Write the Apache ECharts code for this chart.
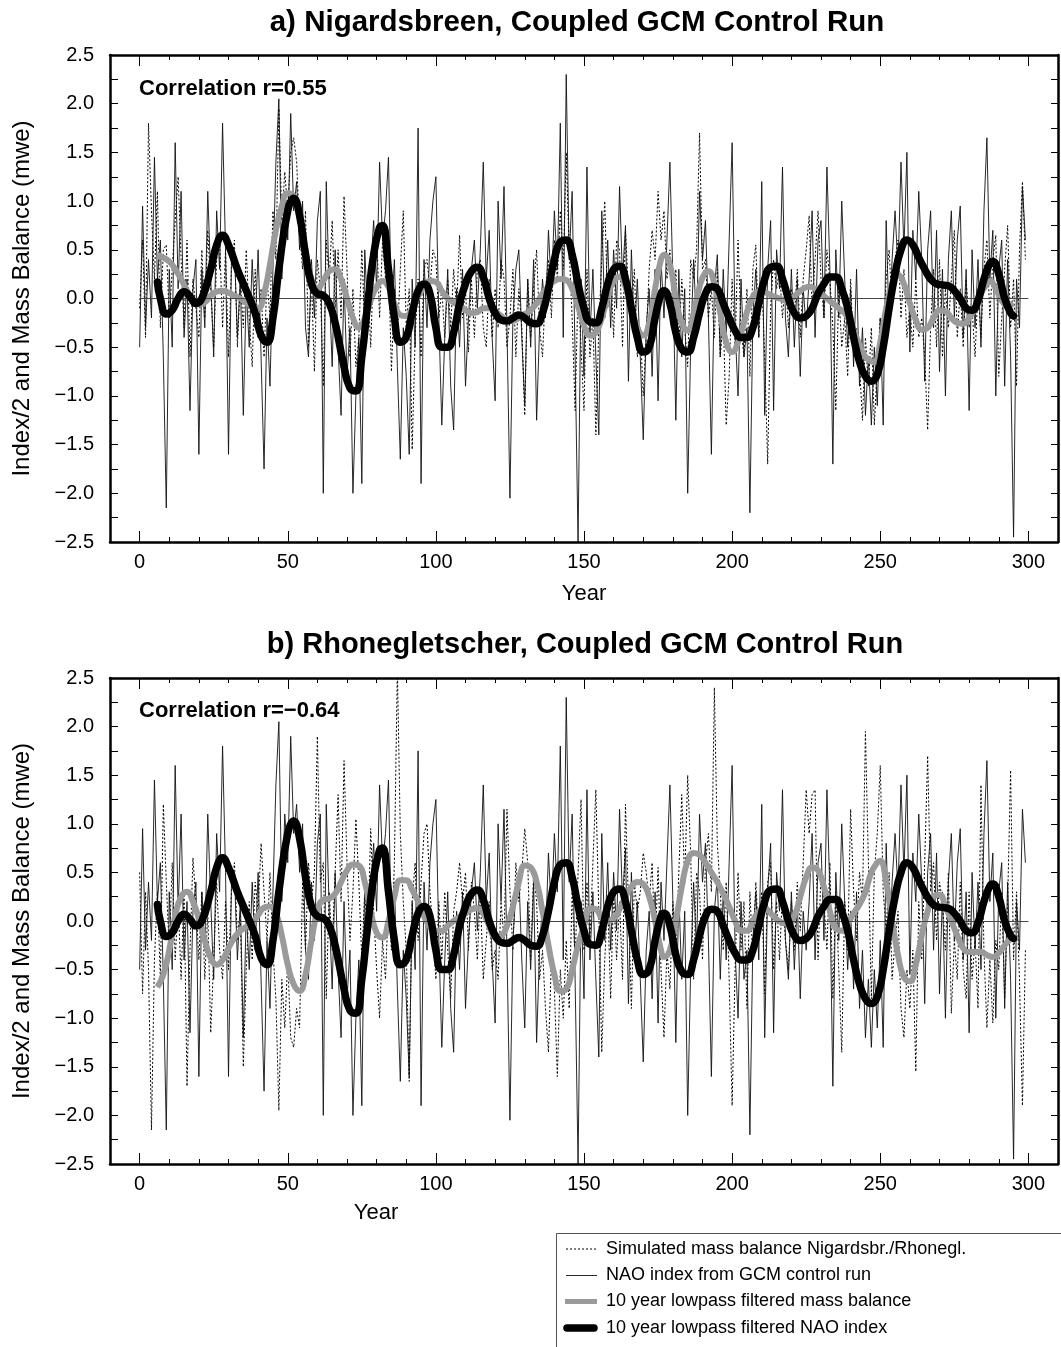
<!DOCTYPE html>
<html>
<head>
<meta charset="utf-8">
<title>NAO index and glacier mass balance</title>
<script src="https://cdn.jsdelivr.net/npm/echarts@6/dist/echarts.min.js"></script>
<style>
html, body { margin: 0; padding: 0; background: #fff; }
#chart { width: 1061px; height: 1347px; }
</style>
</head>
<body>
<div id="chart"></div>
<script>
var FONT = '"Liberation Sans", Arial, Helvetica, sans-serif';

// yearly values start at year 0
var firstYear = 0;

// NAO index / 2 from GCM control run (same in both panels)
var naoIndex = [
  -0.5, 0.95, -0.3, 0.4, -0.2, 1.45, 0.2, 0.6, -0.6, -2.15,
  0.3, -0.5, 1.6, 0.1, 1.1, -0.4, 0.2, -1.15, 0.1, 0.4,
  -1.6, 0.3, -0.3, 1.1, 0.2, -0.6, 0.9, 0.3, 1.8, 0.5,
  -1.6, 0.4, 0.5, -0.4, 0.2, -1.2, 0.1, -0.5, 0.4, -0.3,
  0.5, -0.6, -1.75, -0.2, -0.9, 0.3, 1.4, 2.05, 0.2, 1.1,
  0.6, 1.9, 0.9, 1.2, 0.5, 1.0, -0.3, -0.6, 0.4, -0.2,
  0.8, 1.1, -2.0, 1.2, 0.1, -0.7, 0.5, -0.5, -1.2, 0.2,
  -0.8, -0.3, -2.0, -1.0, -0.4, -1.9, 0.5, -0.2, 0.3, 0.8,
  0.1, 1.4, 0.6, 0.9, 1.45, -0.2, 0.4, -0.7, -1.65, -0.3,
  -0.8, -1.6, 0.2, -0.5, 1.75, -1.9, 0.4, -0.3, 0.6, 1.0,
  1.25, -0.2, -1.3, -0.4, 0.3, -0.9, -1.35, 0.1, -0.5, 0.3,
  -0.9, -0.2, 0.3, 0.6, -0.1, 0.5, 1.4, 0.2, 0.7, -0.4,
  -1.05, 1.0, 0.2, 1.15, -0.3, -2.05, -0.2, 0.3, 0.5, -0.4,
  -1.1, 0.2, -0.5, 0.4, -1.25, -0.3, 0.2, -0.2, 0.7, 0.1,
  0.9, 0.3, 1.8, -0.4, 2.3, 0.4, 1.1, -0.6, -2.5, 0.2,
  -0.8, 1.35, -0.4, 0.3, -0.6, -1.4, 0.9, -0.2, 0.6, -0.3,
  0.5, -0.1, 1.15, 0.2, 0.75, -0.85, 0.5, -0.4, 0.2, -0.6,
  -1.45, -0.3, 0.1, -0.8, 0.3, -1.05, 0.4, -0.2, 0.6, 1.4,
  0.2, -1.25, 0.3, -0.6, 0.1, -2.0, -0.5, 0.4, -0.3, 1.1,
  0.4, 0.8, -0.2, -1.6, 0.1, 0.45, -0.6, 0.3, -0.4, 0.6,
  1.6, -0.3, -1.0, 0.2, -0.6, -0.3, -2.2, -0.2, 0.3, -0.4,
  1.2, -1.2, 0.3, 0.8, -1.15, 0.5, 0.1, 1.35, -0.2, -0.6,
  0.3, -0.5, 0.2, -0.8, 0.1, -0.3, 0.2, 0.9, -0.4, 0.6,
  0.8, -0.2, 1.35, 0.3, -1.7, 0.5, -0.2, 1.0, 0.2, -0.5,
  0.1, -0.7, 0.3, -0.9, -0.3, -1.2, -0.6, -1.3, -0.5, -1.1,
  -0.2, -1.3, 0.8, -0.3, 0.4, 0.9, 0.3, 1.4, 0.5, 1.5,
  -0.55, 0.7, 0.2, 1.1, 0.4, -0.85, 0.5, 0.9, -0.3, 0.7,
  -0.75, 0.3, -1.0, 0.4, 0.9, -0.2, 0.6, 0.95, -0.4, 0.3,
  -1.15, 0.5, -0.3, 0.4, -0.5, 0.9, 1.65, 0.2, 0.7, -1.0,
  0.3, 0.6, -0.9, 0.4, -0.6, -2.45, 0.2, -0.3, 1.15, 0.6
];

// simulated mass balance, Nigardsbreen (panel a)
var massNigardsbreen = [
  -0.1, 0.6, -0.4, 1.8, 0.9, 0.2, 1.1, -0.3, 0.5, 0.55,
  -0.2, 0.3, 0.8, 1.25, 0.4, -0.3, 0.6, -0.6, 0.2, -0.1,
  -0.4, 0.5, -0.2, 0.7, 0.1, -0.5, 0.4, 0.6, -0.3, 0.5,
  -0.6, 0.3, 0.6, -0.5, 0.2, -0.3, 0.5, -0.2, -0.7, 0.3,
  -0.4, 0.1, -0.6, 0.2, -0.2, 0.9, 0.4, 1.95, 0.8, 1.3,
  0.9, 1.5, 1.65, 1.4, 0.7, 0.3, 0.9, -0.5, 0.2, -0.75,
  0.4, 0.1, -0.9, 0.6, 0.2, 0.8, -0.1, 0.5, -0.2, 1.05,
  0.3, -0.6, 0.1, -0.7, -0.4, 0.5, -0.3, 0.2, -0.5, 0.4,
  0.7, -0.2, 0.6, 0.2, 0.4, -0.75, 0.1, -0.4, 0.3, 0.9,
  -0.3, 0.1, -1.55, -0.4, 0.2, -0.6, 0.3, 0.4, 0.1, 0.5,
  0.4, -0.2, 0.1, -0.4, 0.2, -0.3, 0.3, -0.1, 0.65, -0.2,
  0.1, -0.55, 0.2, -0.4, 0.3, 0.4, -0.3, -0.5, 0.2, -0.4,
  0.1, -0.3, 0.4, 0.2, -0.5, -0.2, 0.3, -0.6, 0.1, -0.3,
  -1.2, 0.2, -0.4, 0.1, 0.5, -0.3, -0.6, 0.1, 0.4, -0.2,
  0.6, 0.2, 0.9, 0.3, 1.5, 0.5, -0.2, -1.15, 0.1, -0.5,
  -1.15, 0.3, -0.6, -0.2, -1.4, -0.3, 0.4, 1.0, -0.1, 0.3,
  -0.4, 0.6, 0.5, -0.5, 0.7, 0.1, -0.2, 0.3, -0.6, -0.3,
  -1.0, -0.4, 0.3, 0.7, 0.4, 1.1, 0.6, 0.9, 0.2, 0.5,
  -0.1, 0.3, -0.5, 0.2, -0.3, -0.7, 0.4, 0.2, 0.5, 1.7,
  0.3, 0.4, -0.2, 0.1, -0.4, 0.3, -0.6, -0.2, -1.3, -0.8,
  0.2, -0.5, 0.6, -0.3, -0.6, 0.1, -0.8, 0.3, 0.55, -0.4,
  0.2, -0.6, -1.7, -0.1, 0.4, 0.1, 0.3, -0.2, 0.2, -0.3,
  0.1, -0.2, 0.3, -0.4, 0.2, 0.5, 0.85, -0.1, 0.4, 0.9,
  0.2, -0.2, 0.5, 0.2, -0.3, -1.15, 0.1, -0.5, -0.2, -0.8,
  0.2, -0.6, -0.3, -0.7, -1.25, -0.4, -0.9, -0.3, -1.3, -0.7,
  -0.2, -0.5, 0.2, 0.5, -0.1, 0.4, 0.6, -0.2, 0.3, -0.4,
  -0.1, -0.5, 0.2, -0.4, -0.2, -0.6, -1.35, -0.3, 0.3, -0.5,
  0.4, -0.6, 0.1, -0.3, 0.2, 0.7, -0.4, 0.1, -0.5, 0.2,
  -0.3, -0.1, -0.6, 0.1, -0.4, 0.3, 0.6, -0.2, 0.4, 0.65,
  -0.8, -0.2, 0.3, 0.75, -0.3, 0.2, -0.9, 0.5, 1.2, 0.4
];

// simulated mass balance, Rhonegletscher (panel b)
var massRhonegletscher = [
  0.5, -0.75, 0.3, -0.5, -2.15, -0.4, 0.3, -0.6, 1.2, 0.4,
  -0.3, 0.6, -0.4, 0.2, -0.6, 0.3, -1.7, -0.3, 0.65, 0.2,
  -0.4, 0.3, -0.6, 0.1, -1.15, -0.4, 0.4, -0.3, -0.6, 0.2,
  -0.5, 0.3, 0.6, -0.2, 0.1, -1.5, -0.5, 0.2, -0.4, 0.4,
  0.1, 0.8, 0.3, -0.2, 0.5, -0.3, -0.8, -1.95, -0.6, -1.1,
  -0.4, -1.2, -1.3, -0.9, -1.1, 0.4, -0.3, 0.6, 0.2, 0.5,
  1.9, 0.4, 0.6, -0.8, 0.3, -0.3, 0.5, 1.3, 0.2, 1.65,
  0.6, -0.2, 0.3, 1.05, 0.4, -0.4, 0.3, -0.2, 0.95, 0.1,
  -0.5, -1.0, -0.2, -0.6, 0.2, -0.3, 0.6, 2.6, 0.9, 0.2,
  -0.3, -1.65, 0.2, 0.6, -0.2, 0.4, 0.9, 1.0, 0.3, -0.1,
  -0.6, 0.2, -0.4, 0.3, -0.3, -0.8, 0.1, 0.3, 0.6, 0.2,
  0.5, -0.3, 0.4, 0.1, -0.4, 0.3, -0.6, -0.2, 0.2, -0.5,
  -0.3, -0.6, 0.2, -0.2, 1.15, 0.3, -0.3, 0.6, 0.2, 0.5,
  0.95, 0.6, -0.4, 0.5, 0.2, -0.6, -0.3, -0.9, -1.35, -0.4,
  -0.7, -1.6, -0.5, -1.0, -0.2, -0.9, 0.3, -0.4, 0.5, 1.25,
  -0.3, 0.4, -0.2, 0.6, 1.35, 0.1, -1.35, -0.4, 0.2, -0.8,
  0.3, -0.4, 0.2, -0.6, 1.2, 0.2, -0.9, 0.4, 0.1, 0.3,
  0.7, 0.5, 0.2, 0.6, -0.3, 0.55, -0.5, -1.2, -0.3, -0.7,
  0.2, -0.4, 0.5, 1.3, 0.4, 1.5, 0.7, -0.6, 0.5, 0.3,
  -0.4, 0.6, 0.9, 0.3, 2.4, 0.8, 0.3, -0.3, 0.4, -0.6,
  -1.9, -0.5, 0.5, -0.3, 0.2, -0.9, 0.3, -0.4, 0.4, -0.2,
  0.3, -0.75, 0.4, 0.6, -0.5, 0.2, -0.4, 0.3, -0.2, -0.5,
  0.2, -0.3, 0.4, -0.1, 0.6, 1.35, 0.9, 1.3, 1.35, -0.4,
  0.5, 0.2, -0.3, 0.6, -0.8, 0.3, -0.5, -1.35, 0.2, -0.3,
  1.15, 0.3, -0.2, 0.5, 0.2, 1.95, 0.6, -0.8, 0.5, 0.9,
  1.6, 0.3, -0.1, 0.5, -0.6, -0.2, 0.1, -0.9, -1.2, -0.5,
  -0.9, -0.3, -1.55, 0.2, -0.4, 0.6, 1.7, 0.3, 0.6, -0.2,
  0.4, 0.2, -0.3, 0.5, -0.95, -0.2, -0.6, 0.4, -0.5, -0.8,
  0.3, -0.6, -0.2, -0.9, 1.4, -0.3, -1.1, -0.4, -1.05, -0.2,
  -0.5, 0.3, -0.8, 0.2, 1.55, -0.4, 0.3, -0.6, -1.9, -0.3
];

// 10 year lowpass filtered NAO index [year, value]
var naoLowpass = [
  [6,0.17],[7,0.0],[9,-0.16],[11,-0.12],[13,0.0],[15,0.07],[17,0.02],[19,-0.05],[21,0.0],
  [24,0.3],[26,0.55],[28,0.65],[30,0.55],[33,0.3],[36,0.08],[39,-0.15],[41,-0.38],[43,-0.45],
  [45,-0.2],[47,0.3],[50,0.9],[52,1.03],[54,0.85],[56,0.45],[58,0.15],[60,0.05],[62,0.03],
  [64,-0.05],[66,-0.25],[69,-0.7],[71,-0.92],[73,-0.95],[75,-0.6],[77,-0.05],[79,0.45],
  [81,0.73],[82,0.75],[84,0.3],[86,-0.2],[88,-0.45],[90,-0.4],[92,-0.15],[94,0.08],[96,0.15],
  [98,0.05],[100,-0.3],[102,-0.5],[104,-0.5],[106,-0.35],[108,-0.05],[110,0.15],[112,0.28],
  [114,0.32],[116,0.22],[118,0.0],[120,-0.15],[122,-0.22],[124,-0.23],[126,-0.2],[128,-0.17],
  [130,-0.2],[132,-0.25],[134,-0.26],[136,-0.15],[138,0.1],[140,0.4],[142,0.58],[144,0.6],
  [146,0.45],[148,0.15],[150,-0.1],[152,-0.24],[154,-0.25],[156,-0.1],[158,0.15],[160,0.3],
  [162,0.33],[164,0.2],[166,-0.1],[168,-0.4],[170,-0.55],[172,-0.5],[174,-0.2],[176,0.05],
  [177,0.08],[179,-0.05],[181,-0.35],[183,-0.52],[185,-0.55],[187,-0.4],[189,-0.15],[191,0.05],
  [193,0.12],[195,0.1],[197,-0.05],[199,-0.2],[201,-0.33],[203,-0.4],[205,-0.4],[207,-0.3],
  [209,-0.05],[211,0.2],[213,0.32],[215,0.33],[217,0.2],[219,0.0],[221,-0.15],[223,-0.2],
  [225,-0.18],[227,-0.1],[229,0.05],[231,0.15],[233,0.22],[235,0.22],[237,0.1],[239,-0.1],
  [241,-0.4],[243,-0.65],[245,-0.8],[247,-0.85],[249,-0.78],[251,-0.5],[253,-0.1],[255,0.25],
  [257,0.5],[259,0.6],[261,0.55],[263,0.42],[265,0.3],[267,0.2],[269,0.15],[271,0.14],
  [273,0.13],[275,0.08],[277,0.0],[279,-0.1],[281,-0.12],[283,-0.02],[285,0.2],[287,0.36],
  [288,0.38],[290,0.25],[292,0.0],[294,-0.15],[295,-0.18]
];

// 10 year lowpass filtered mass balance, Nigardsbreen
var massLowpassNigardsbreen = [
  [6,0.45],[8,0.42],[10,0.38],[12,0.3],[14,0.2],[16,0.08],[18,-0.02],[20,-0.06],[22,-0.04],
  [24,0.03],[26,0.07],[28,0.08],[30,0.06],[32,0.03],[34,0.0],[36,-0.04],[38,-0.08],[40,-0.1],
  [42,0.05],[44,0.35],[46,0.7],[48,0.95],[50,1.08],[52,1.05],[54,0.85],[56,0.5],[58,0.2],
  [60,0.1],[62,0.18],[64,0.28],[66,0.3],[68,0.2],[70,0.0],[72,-0.2],[74,-0.3],[76,-0.2],
  [78,-0.02],[80,0.12],[82,0.18],[84,0.12],[86,-0.05],[88,-0.17],[90,-0.18],[92,-0.1],
  [94,0.02],[96,0.12],[98,0.18],[100,0.17],[102,0.08],[104,0.0],[106,-0.04],[108,-0.08],
  [110,-0.12],[112,-0.15],[114,-0.14],[116,-0.1],[118,-0.1],[120,-0.13],[122,-0.18],
  [124,-0.22],[126,-0.23],[128,-0.2],[130,-0.16],[132,-0.12],[134,-0.05],[136,0.05],
  [138,0.12],[140,0.18],[142,0.2],[144,0.19],[146,0.1],[148,-0.08],[150,-0.28],[152,-0.38],
  [154,-0.35],[156,-0.2],[158,0.02],[160,0.18],[162,0.22],[164,0.12],[166,-0.1],[168,-0.3],
  [170,-0.38],[172,-0.25],[174,0.1],[176,0.4],[177,0.45],[179,0.35],[181,0.0],[183,-0.25],
  [185,-0.33],[187,-0.15],[189,0.12],[191,0.27],[192,0.28],[194,0.15],[196,-0.15],[198,-0.45],
  [200,-0.55],[202,-0.45],[204,-0.25],[206,-0.05],[208,0.06],[210,0.08],[212,0.05],[214,0.02],
  [216,0.0],[218,-0.02],[220,0.0],[222,0.05],[224,0.1],[226,0.12],[228,0.1],[230,0.05],
  [232,0.0],[234,-0.05],[236,-0.1],[238,-0.15],[240,-0.25],[242,-0.4],[244,-0.55],[246,-0.63],
  [248,-0.65],[250,-0.45],[252,-0.1],[254,0.15],[256,0.24],[258,0.15],[260,-0.05],[262,-0.22],
  [264,-0.32],[266,-0.3],[268,-0.2],[270,-0.12],[272,-0.13],[274,-0.2],[276,-0.25],[278,-0.26],
  [280,-0.2],[282,-0.1],[284,0.05],[286,0.15],[287,0.18],[289,0.1],[291,-0.02],[293,-0.07],
  [295,-0.05]
];

// 10 year lowpass filtered mass balance, Rhonegletscher
var massLowpassRhonegletscher = [
  [6,-0.68],[8,-0.55],[10,-0.3],[12,0.05],[14,0.25],[16,0.3],[18,0.2],[20,0.02],[22,-0.2],
  [24,-0.38],[26,-0.45],[28,-0.4],[30,-0.28],[32,-0.17],[34,-0.1],[36,-0.06],[38,-0.02],
  [40,0.06],[42,0.14],[44,0.15],[46,0.08],[48,-0.15],[50,-0.45],[52,-0.65],[54,-0.72],
  [56,-0.55],[58,-0.2],[60,0.1],[62,0.22],[64,0.23],[66,0.28],[68,0.4],[70,0.52],[72,0.58],
  [74,0.57],[76,0.4],[78,0.1],[80,-0.12],[82,-0.17],[84,0.0],[86,0.25],[88,0.42],[90,0.42],
  [92,0.32],[94,0.2],[96,0.05],[98,-0.06],[100,-0.1],[102,-0.1],[104,-0.05],[106,0.0],
  [108,0.04],[110,0.08],[112,0.12],[114,0.13],[116,0.08],[118,-0.05],[120,-0.16],[122,-0.15],
  [124,-0.05],[126,0.15],[128,0.4],[130,0.57],[132,0.55],[134,0.4],[136,0.1],[138,-0.25],
  [140,-0.55],[142,-0.72],[144,-0.7],[146,-0.5],[148,-0.25],[150,-0.05],[152,0.13],[154,0.12],
  [156,0.03],[158,0.0],[160,0.03],[162,0.12],[164,0.25],[166,0.35],[168,0.4],[170,0.38],
  [172,0.25],[174,0.0],[176,-0.3],[177,-0.37],[179,-0.3],[181,0.0],[183,0.35],[185,0.62],
  [187,0.7],[189,0.68],[191,0.6],[193,0.5],[195,0.4],[197,0.28],[199,0.15],[201,0.0],
  [203,-0.1],[205,-0.1],[207,0.0],[209,0.1],[211,0.13],[213,0.08],[215,0.02],[217,-0.02],
  [219,-0.03],[221,0.05],[223,0.25],[225,0.45],[227,0.55],[229,0.52],[231,0.35],[233,0.1],
  [235,-0.08],[237,-0.1],[239,-0.03],[241,0.08],[243,0.17],[245,0.3],[247,0.5],[249,0.6],
  [250,0.62],[252,0.4],[254,0.0],[256,-0.35],[258,-0.58],[260,-0.62],[262,-0.45],[264,-0.15],
  [266,0.1],[268,0.25],[270,0.27],[272,0.15],[274,0.0],[276,-0.15],[278,-0.28],[280,-0.32],
  [282,-0.32],[284,-0.32],[286,-0.35],[288,-0.37],[290,-0.33],[292,-0.25],[294,-0.18]
];

var yearTicks = [0, 50, 100, 150, 200, 250, 300];
var panelTitles = ['a) Nigardsbreen, Coupled GCM Control Run', 'b) Rhonegletscher, Coupled GCM Control Run'];
var correlations = ['Correlation r=0.55', 'Correlation r=\u22120.64'];
var seriesNames = [
  'Simulated mass balance Nigardsbr./Rhonegl.',
  'NAO index from GCM control run',
  '10 year lowpass filtered mass balance',
  '10 year lowpass filtered NAO index'
];

// line looks shared by the series and the hand-drawn key
var looks = [
  { color: '#000', width: 1, type: [2, 2] },
  { color: '#111', width: 0.9, type: 'solid' },
  { color: '#9a9a9a', width: 6, type: 'solid' },
  { color: '#000', width: 7.5, type: 'solid', cap: 'round' }
];

function yearly(values) {
  return values.map(function (v, i) { return [firstYear + i, v]; });
}

function fmtYear(v) {
  return (v % 50 === 0 && v >= 0 && v <= 300) ? String(v) : '';
}

function fmtValue(v) {
  if (Math.abs(v * 2 - Math.round(v * 2)) > 1e-6) return '';
  return v.toFixed(1).replace('-', '\u2212');
}

var axisLine = { show: true, onZero: false, lineStyle: { color: '#000', width: 2.5 } };
var tickLine = { color: '#000', width: 1 };

function xAxesFor(g, withName) {
  var base = { type: 'value', gridIndex: g, min: -10, max: 310, interval: 10, splitLine: { show: false } };
  return [
    Object.assign({}, base, {
      position: 'bottom',
      axisLine: axisLine,
      axisTick: { inside: true, length: 5, lineStyle: tickLine },
      axisLabel: { formatter: fmtYear, fontSize: 20, fontFamily: FONT, color: '#000', margin: 10 },
      name: withName ? 'Year' : '',
      nameLocation: 'middle',
      nameGap: 41,
      nameTextStyle: { fontSize: 22, fontFamily: FONT, color: '#000' }
    }),
    Object.assign({}, base, {
      position: 'bottom',
      axisLine: { show: false, onZero: false },
      axisTick: { inside: true, length: 11, customValues: yearTicks, lineStyle: tickLine },
      axisLabel: { show: false }
    }),
    Object.assign({}, base, {
      position: 'top',
      axisLine: axisLine,
      axisTick: { inside: true, length: 5, lineStyle: tickLine },
      axisLabel: { show: false }
    }),
    Object.assign({}, base, {
      position: 'top',
      axisLine: { show: false, onZero: false },
      axisTick: { inside: true, length: 11, customValues: yearTicks, lineStyle: tickLine },
      axisLabel: { show: false }
    })
  ];
}

function yAxesFor(g) {
  var base = { type: 'value', gridIndex: g, min: -2.5, max: 2.5, interval: 0.25, splitLine: { show: false } };
  return [
    Object.assign({}, base, {
      position: 'left',
      axisLine: axisLine,
      axisTick: { inside: true, length: 8, lineStyle: tickLine },
      axisLabel: { formatter: fmtValue, fontSize: 20, fontFamily: FONT, color: '#000', margin: 16 },
      name: 'Index/2 and Mass Balance (mwe)',
      nameLocation: 'middle',
      nameGap: 76,
      nameTextStyle: { fontSize: 24, fontFamily: FONT, color: '#000' }
    }),
    Object.assign({}, base, {
      position: 'right',
      axisLine: axisLine,
      axisTick: { inside: true, length: 7, lineStyle: tickLine },
      axisLabel: { show: false }
    })
  ];
}

function seriesFor(g, mass, massLow) {
  var xi = g * 4, yi = g * 2;
  return [
    {
      name: seriesNames[0], type: 'line', xAxisIndex: xi, yAxisIndex: yi,
      data: yearly(mass), symbol: 'none', z: 2, lineStyle: looks[0]
    },
    {
      name: seriesNames[1], type: 'line', xAxisIndex: xi, yAxisIndex: yi,
      data: yearly(naoIndex), symbol: 'none', z: 3, lineStyle: looks[1],
      markLine: {
        silent: true, symbol: ['none', 'none'], label: { show: false },
        lineStyle: { color: '#444', width: 1, type: 'solid' },
        data: [[{ coord: [0, 0] }, { coord: [300, 0] }]]
      }
    },
    {
      name: seriesNames[2], type: 'line', xAxisIndex: xi, yAxisIndex: yi,
      data: massLow, symbol: 'none', smooth: 0.5, z: 4, lineStyle: looks[2]
    },
    {
      name: seriesNames[3], type: 'line', xAxisIndex: xi, yAxisIndex: yi,
      data: naoLowpass, symbol: 'none', smooth: 0.5, z: 5, lineStyle: looks[3]
    }
  ];
}

// key in the lower right corner, box runs off the page like the original
var keyRows = [1249, 1275.5, 1301.5, 1328];
var keyStart = [566, 566, 565, 567];
var keyEnd = [597, 597, 597, 594];
var keyItems = [
  { type: 'rect', shape: { x: 556.5, y: 1233.5, width: 530, height: 130 }, style: { fill: '#fff', stroke: '#555', lineWidth: 1 } }
];
seriesNames.forEach(function (name, i) {
  var lk = looks[i];
  keyItems.push({
    type: 'line', z: 5,
    shape: { x1: keyStart[i], y1: keyRows[i], x2: keyEnd[i], y2: keyRows[i] },
    style: { stroke: lk.color, lineWidth: i === 2 ? 5 : lk.width, lineDash: Array.isArray(lk.type) ? lk.type : null, lineCap: lk.cap || 'butt' }
  });
  keyItems.push({
    type: 'text', z: 5, x: 606, y: keyRows[i],
    style: { text: name, font: '18px ' + FONT, fill: '#000', textAlign: 'left', textVerticalAlign: 'middle' }
  });
});

var chart = echarts.init(document.getElementById('chart'), null, { renderer: 'canvas' });

var option = {
  animation: false,
  backgroundColor: '#fff',
  grid: [
    { left: 110, right: -2, top: 55, height: 487 },
    { left: 110, right: -2, top: 678, height: 486 }
  ],
  xAxis: xAxesFor(0, true).concat(xAxesFor(1, false)),
  yAxis: yAxesFor(0).concat(yAxesFor(1)),
  graphic: [
    { type: 'text', x: 577, y: 23, style: { text: panelTitles[0], font: 'bold 29.5px ' + FONT, fill: '#000', textAlign: 'center', textVerticalAlign: 'middle' } },
    { type: 'text', x: 585, y: 645, style: { text: panelTitles[1], font: 'bold 29px ' + FONT, fill: '#000', textAlign: 'center', textVerticalAlign: 'middle' } },
    { type: 'text', x: 139, y: 89, z: 10, style: { text: correlations[0], font: 'bold 22px ' + FONT, fill: '#000', textAlign: 'left', textVerticalAlign: 'middle' } },
    { type: 'text', x: 139, y: 711, z: 10, style: { text: correlations[1], font: 'bold 22px ' + FONT, fill: '#000', textAlign: 'left', textVerticalAlign: 'middle' } },
    { type: 'text', x: 376, y: 1213, style: { text: 'Year', font: '22px ' + FONT, fill: '#000', textAlign: 'center', textVerticalAlign: 'middle' } }
  ].concat(keyItems),
  series: seriesFor(0, massNigardsbreen, massLowpassNigardsbreen)
    .concat(seriesFor(1, massRhonegletscher, massLowpassRhonegletscher))
};

chart.setOption(option);
</script>
</body>
</html>
